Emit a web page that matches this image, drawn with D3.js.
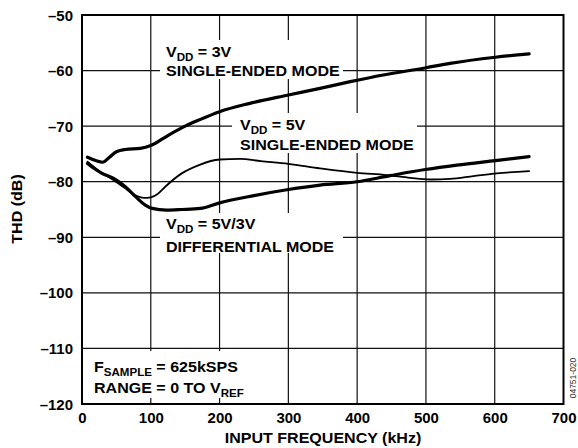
<!DOCTYPE html>
<html><head><meta charset="utf-8">
<script src="https://cdn.jsdelivr.net/npm/d3@7"></script>
<style>body{margin:0;background:#fff}svg{display:block}</style>
</head><body><svg id="c" width="578" height="448"></svg>
<script>
const xTicks = [0,100,200,300,400,500,600,700];
const yTicks = [-50,-60,-70,-80,-90,-100,-110,-120];

const freq3V = [8,20,30,40,50,63,85,100,126,150,170,200,244,300,346,390,438,500,535,601,650];
const thd3V  = [-75.6,-76.2,-76.5,-75.6,-74.6,-74.2,-74.0,-73.5,-71.6,-70.0,-68.9,-67.4,-65.9,-64.4,-63.2,-62.0,-60.8,-59.5,-58.7,-57.6,-57.0];

const freq5V = [8,20,34,48,63,77,90,100,110,121,145,170,200,230,260,300,346,400,443,477,506,535,569,603,650];
const thd5V  = [-76.4,-77.6,-78.8,-79.9,-81.2,-82.4,-82.9,-82.8,-82.2,-80.9,-78.5,-77.0,-76.0,-75.9,-76.3,-76.8,-77.6,-78.4,-78.8,-79.3,-79.6,-79.5,-79.0,-78.5,-78.1];

const freqDiff = [8,20,29,46,63,77,92,102,123,145,172,200,250,300,346,400,448,499,545,601,650];
const thdDiff  = [-76.7,-77.8,-78.5,-79.4,-80.9,-82.6,-84.2,-84.8,-85.1,-85.0,-84.8,-83.8,-82.5,-81.4,-80.6,-80.0,-78.9,-77.8,-77.0,-76.2,-75.5];

const svg = d3.select("#c");
const FONT = "Liberation Sans, Arial, Helvetica, sans-serif";
const SX = 1.07;
const x = d3.scaleLinear().domain([0,700]).range([82,563.5]);
const y = d3.scaleLinear().domain([-120,-50]).range([404,15]);

// grid
const g = svg.append("g");
g.selectAll("line.v").data(xTicks.slice(1,-1)).join("line")
  .attr("x1",d=>x(d)).attr("x2",d=>x(d)).attr("y1",y(-50)).attr("y2",y(-120))
  .attr("stroke","#111").attr("stroke-width",1.2);
g.selectAll("line.h").data(yTicks.slice(1,-1)).join("line")
  .attr("x1",x(0)).attr("x2",x(700)).attr("y1",d=>y(d)).attr("y2",d=>y(d))
  .attr("stroke","#111").attr("stroke-width",1.2);

// white label knockouts
const boxes = [[160,40,343,79],[232,113,417,153],[160,213,343,253],[84,351,252,398]];
svg.append("g").selectAll("rect").data(boxes).join("rect")
  .attr("x",d=>d[0]).attr("y",d=>d[1]).attr("width",d=>d[2]-d[0]).attr("height",d=>d[3]-d[1])
  .attr("fill","#fff");

// curves
const line = d3.line().x(d=>x(d[0])).y(d=>y(d[1])).curve(d3.curveMonotoneX);
const series = [
  {f:freq3V, v:thd3V, w:3.2},
  {f:freq5V, v:thd5V, w:1.8},
  {f:freqDiff, v:thdDiff, w:3.2}
];
svg.append("g").selectAll("path").data(series).join("path")
  .attr("d",s=>line(s.f.map((f,i)=>[f,s.v[i]])))
  .attr("fill","none").attr("stroke","#000").attr("stroke-width",s=>s.w)
  .attr("stroke-linejoin","round").attr("stroke-linecap","round");

// frame
svg.append("rect").attr("x",x(0)).attr("y",y(-50)).attr("width",x(700)-x(0)).attr("height",y(-120)-y(-50))
  .attr("fill","none").attr("stroke","#000").attr("stroke-width",2);

// axes labels
const xAxis = d3.axisBottom(x).tickValues(xTicks).tickSize(0).tickPadding(0).tickFormat(d3.format("d"));
const xa = svg.append("g").attr("transform",`translate(0,${y(-120)})`).call(xAxis);
xa.select(".domain").remove();
xa.selectAll("text").attr("dy",null).attr("y",19.3).attr("transform",`scale(${SX},1)`)
  .attr("font-family",FONT).attr("font-weight","bold").attr("font-size",14).attr("fill","#000");

const yAxis = d3.axisLeft(y).tickValues(yTicks).tickSize(0).tickPadding(0).tickFormat(d=>"–"+Math.abs(d));
const ya = svg.append("g").attr("transform",`translate(73,0)`).call(yAxis);
ya.select(".domain").remove();
ya.selectAll("text").attr("x",0).attr("dy","0.36em").attr("transform",`scale(${SX},1)`)
  .attr("font-family",FONT).attr("font-weight","bold").attr("font-size",14).attr("fill","#000");

svg.append("text").attr("transform",`translate(323,443) scale(${SX},1)`).attr("text-anchor","middle")
  .attr("font-family",FONT).attr("font-weight","bold").attr("font-size",15)
  .text("INPUT FREQUENCY (kHz)");
svg.append("text").attr("transform",`translate(22,209) rotate(-90) scale(${SX},1)`).attr("text-anchor","middle")
  .attr("font-family",FONT).attr("font-weight","bold").attr("font-size",15)
  .text("THD (dB)");
svg.append("text").attr("transform","translate(576,378) rotate(-90)").attr("text-anchor","middle")
  .attr("font-family",FONT).attr("font-size",8.5).attr("fill","#333")
  .text("04751-020");

// annotations
function label(xp, yp, parts, size){
  const t = svg.append("text").attr("transform",`translate(${xp},${yp}) scale(${SX},1)`)
    .attr("font-family",FONT).attr("font-weight","bold").attr("font-size",size).attr("fill","#000");
  let shifted = false;
  parts.forEach(p=>{
    const sp = t.append("tspan").text(p.t);
    if(p.sub && !shifted){ sp.attr("dy",4).attr("font-size",size*0.72); shifted=true; }
    else if(!p.sub && shifted){ sp.attr("dy",-4); shifted=false; }
  });
}
label(166,57,[{t:"V"},{t:"DD",sub:true},{t:" = 3V"}],15);
label(166,76,[{t:"SINGLE-ENDED MODE"}],15);
label(240,130,[{t:"V"},{t:"DD",sub:true},{t:" = 5V"}],15);
label(240,150,[{t:"SINGLE-ENDED MODE"}],15);
label(166,229,[{t:"V"},{t:"DD",sub:true},{t:" = 5V/3V"}],15);
label(166,251.5,[{t:"DIFFERENTIAL MODE"}],15);
label(94,371.5,[{t:"F"},{t:"SAMPLE",sub:true},{t:" = 625kSPS"}],15);
label(94,392.5,[{t:"RANGE = 0 TO V"},{t:"REF",sub:true}],15);
</script></body></html>
